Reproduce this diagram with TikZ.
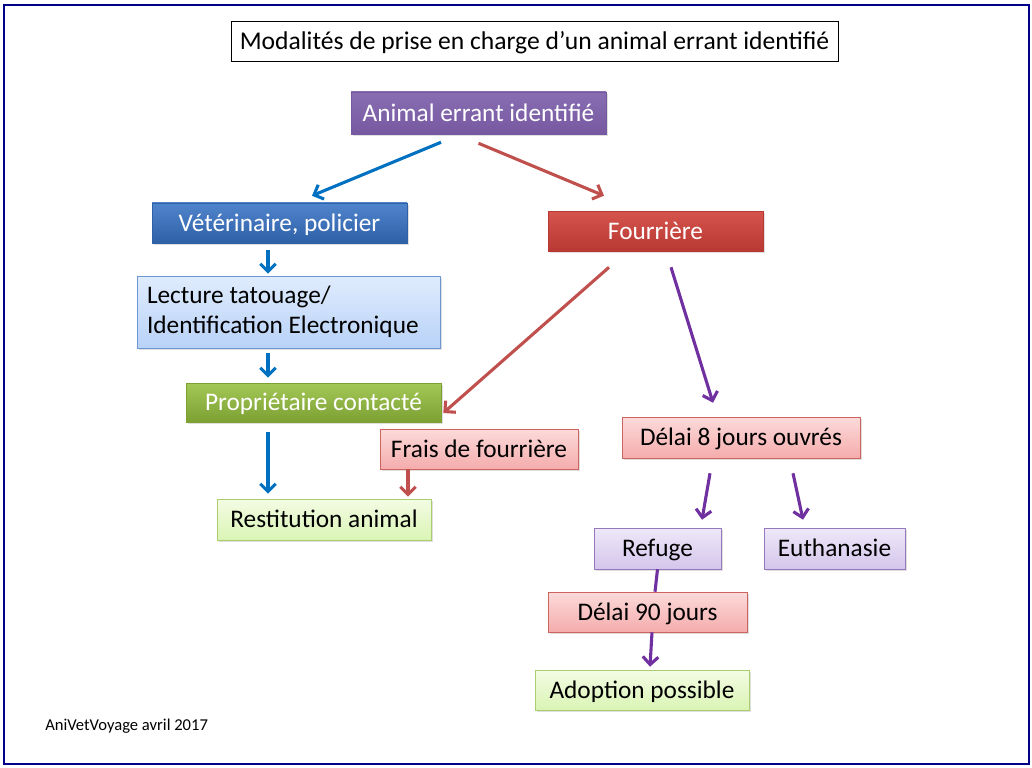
\documentclass[tikz,border=0pt]{standalone}
\usepackage{fontspec}
\setmainfont{Carlito}
\usepackage{tikz}
\usepackage{xcolor}
\usetikzlibrary{arrows.meta,shadows}
\newlength\px
\setlength\px{0.025cm}
\definecolor{arrowblue}{HTML}{0070C0}
\definecolor{arrowred}{HTML}{C0504D}
\definecolor{arrowpurple}{HTML}{7030A0}
\definecolor{frameblue}{HTML}{00008B}
\definecolor{purpletop}{RGB}{137,110,178}
\definecolor{purplebot}{RGB}{118,88,160}
\definecolor{bluetop}{RGB}{80,132,204}
\definecolor{bluebot}{RGB}{46,96,166}
\definecolor{redtop}{RGB}{214,84,78}
\definecolor{redbot}{RGB}{184,56,50}
\definecolor{greentop}{RGB}{164,200,88}
\definecolor{greenbot}{RGB}{124,160,50}
\definecolor{lbluetop}{RGB}{224,236,253}
\definecolor{lbluebot}{RGB}{184,210,248}
\definecolor{lbluedraw}{RGB}{110,150,210}
\definecolor{lredtop}{RGB}{252,218,218}
\definecolor{lredbot}{RGB}{245,172,172}
\definecolor{lreddraw}{RGB}{205,100,96}
\definecolor{lgreentop}{RGB}{243,252,228}
\definecolor{lgreenbot}{RGB}{218,244,180}
\definecolor{lgreendraw}{RGB}{170,205,110}
\definecolor{lpurpletop}{RGB}{238,232,248}
\definecolor{lpurplebot}{RGB}{212,198,236}
\definecolor{lpurpledraw}{RGB}{150,120,190}

\begin{document}
\begin{tikzpicture}[
      x=1\px,y=-1\px,
      every node/.style={font=\fontsize{18}{21.5}\selectfont},
      box/.style={rectangle,minimum height=40\px,align=center,inner sep=2\px,
        drop shadow={shadow xshift=1.2pt,shadow yshift=-1.2pt,opacity=0.25}},
      oneline/.style={text height=15pt,text depth=3.4pt},
      darkbox/.style={box,oneline,text=white,draw=#1bot,top color=#1top,bottom color=#1bot},
      lightbox/.style={box,oneline,text=black,draw=#1draw,top color=#1top,bottom color=#1bot},
      blueline/.style={line width=2.2pt,draw=arrowblue},
      redline/.style={line width=2.2pt,draw=arrowred},
      purpleline/.style={line width=2.2pt,draw=arrowpurple},
      tip/.style={-{Straight Barb[length=5.5pt,width=11pt]}}
    ]
    \useasboundingbox (0,0) rectangle (1032,768);
    \draw[frameblue,line width=1pt] (4,5) rectangle (1029,764);
    \node[draw=black,line width=0.6pt,minimum width=607\px,minimum height=40\px,oneline,font=\fontsize{18.2}{22}\selectfont] (title) at (534.5,41) {Modalités de prise en charge d’un animal errant identifié};
    \node[darkbox=purple,minimum width=255\px,minimum height=42\px] (animal) at (478.5,113) {Animal errant identifié};
    \node[darkbox=blue,minimum width=255\px] (vet) at (279.5,223) {Vétérinaire, policier};
    \node[darkbox=red,minimum width=215\px] (fourriere) at (655.5,231) {Fourrière};
    \node[lightbox=lblue,text height=,text depth=,minimum height=72\px,text width=283\px,inner xsep=10\px,align=flush left] (lecture) at (288.5,312) {Lecture tatouage/\\Identification Electronique};
    \node[darkbox=green,minimum width=255\px,minimum height=39\px] (proprio) at (313.5,402.5) {Propriétaire contacté};
    \node[lightbox=lred,minimum width=198\px] (frais) at (479,449) {Frais de fourrière};
    \node[lightbox=lgreen,minimum width=214\px,minimum height=41\px] (restitution) at (324,519.5) {Restitution animal};
    \node[lightbox=lred,minimum width=238\px,minimum height=41\px] (delai8) at (741,437.5) {Délai 8 jours ouvrés};
    \node[lightbox=lpurple,minimum width=127\px,minimum height=41\px] (refuge) at (657.5,548.5) {Refuge};
    \node[lightbox=lpurple,minimum width=141\px,minimum height=41\px] (euth) at (834.5,548.5) {Euthanasie};
    \node[lightbox=lred,minimum width=199\px] (delai90) at (647.5,612) {Délai 90 jours};
    \node[lightbox=lgreen,minimum width=214\px] (adoption) at (642,690) {Adoption possible};
    \node[anchor=west,inner sep=0pt,font=\fontsize{11.8}{14}\selectfont] (sign) at (45,726) {AniVetVoyage avril 2017};
    \draw[blueline,tip] ([xshift=-37.5\px,yshift=-8\px]animal.south) -- ([xshift=32.5\px,yshift=7\px]vet.north);
    \draw[redline,tip] ([yshift=-9\px]animal.south) -- ([xshift=-51.5\px,yshift=15\px]fourriere.north);
    \draw[blueline,tip] ([xshift=-11.5\px,yshift=-7\px]vet.south) -- ([xshift=-20.5\px,yshift=2\px]lecture.north);
    \draw[blueline,tip] ([xshift=-20.5\px,yshift=-5\px]lecture.south) -- ([xshift=-45.5\px,yshift=5\px]proprio.north);
    \draw[blueline,tip] ([xshift=-45.5\px,yshift=-10\px]proprio.south) -- ([xshift=-56\px,yshift=5\px]restitution.north);
    \draw[redline,tip] ([xshift=-46.5\px,yshift=-16\px]fourriere.south) -- ([xshift=2\px,yshift=-10.5\px]proprio.east);
    \draw[redline,tip] ([xshift=-71\px]frais.south) -- ([xshift=84\px,yshift=2\px]restitution.north);
    \draw[purpleline,tip] ([xshift=15.5\px,yshift=-16\px]fourriere.south) -- ([xshift=-28\px,yshift=14\px]delai8.north);
    \draw[purpleline,tip] ([xshift=-31\px,yshift=-15\px]delai8.south) -- ([xshift=44.5\px,yshift=8\px]refuge.north);
    \draw[purpleline,tip] ([xshift=52\px,yshift=-15\px]delai8.south) -- ([xshift=-31.5\px,yshift=8\px]euth.north);
    \draw[purpleline] (refuge.south) -- ([xshift=7.5\px]delai90.north);
    \draw[purpleline,tip] ([xshift=4.5\px]delai90.south) -- ([xshift=8\px,yshift=3\px]adoption.north);
  \end{tikzpicture}
\end{document}
